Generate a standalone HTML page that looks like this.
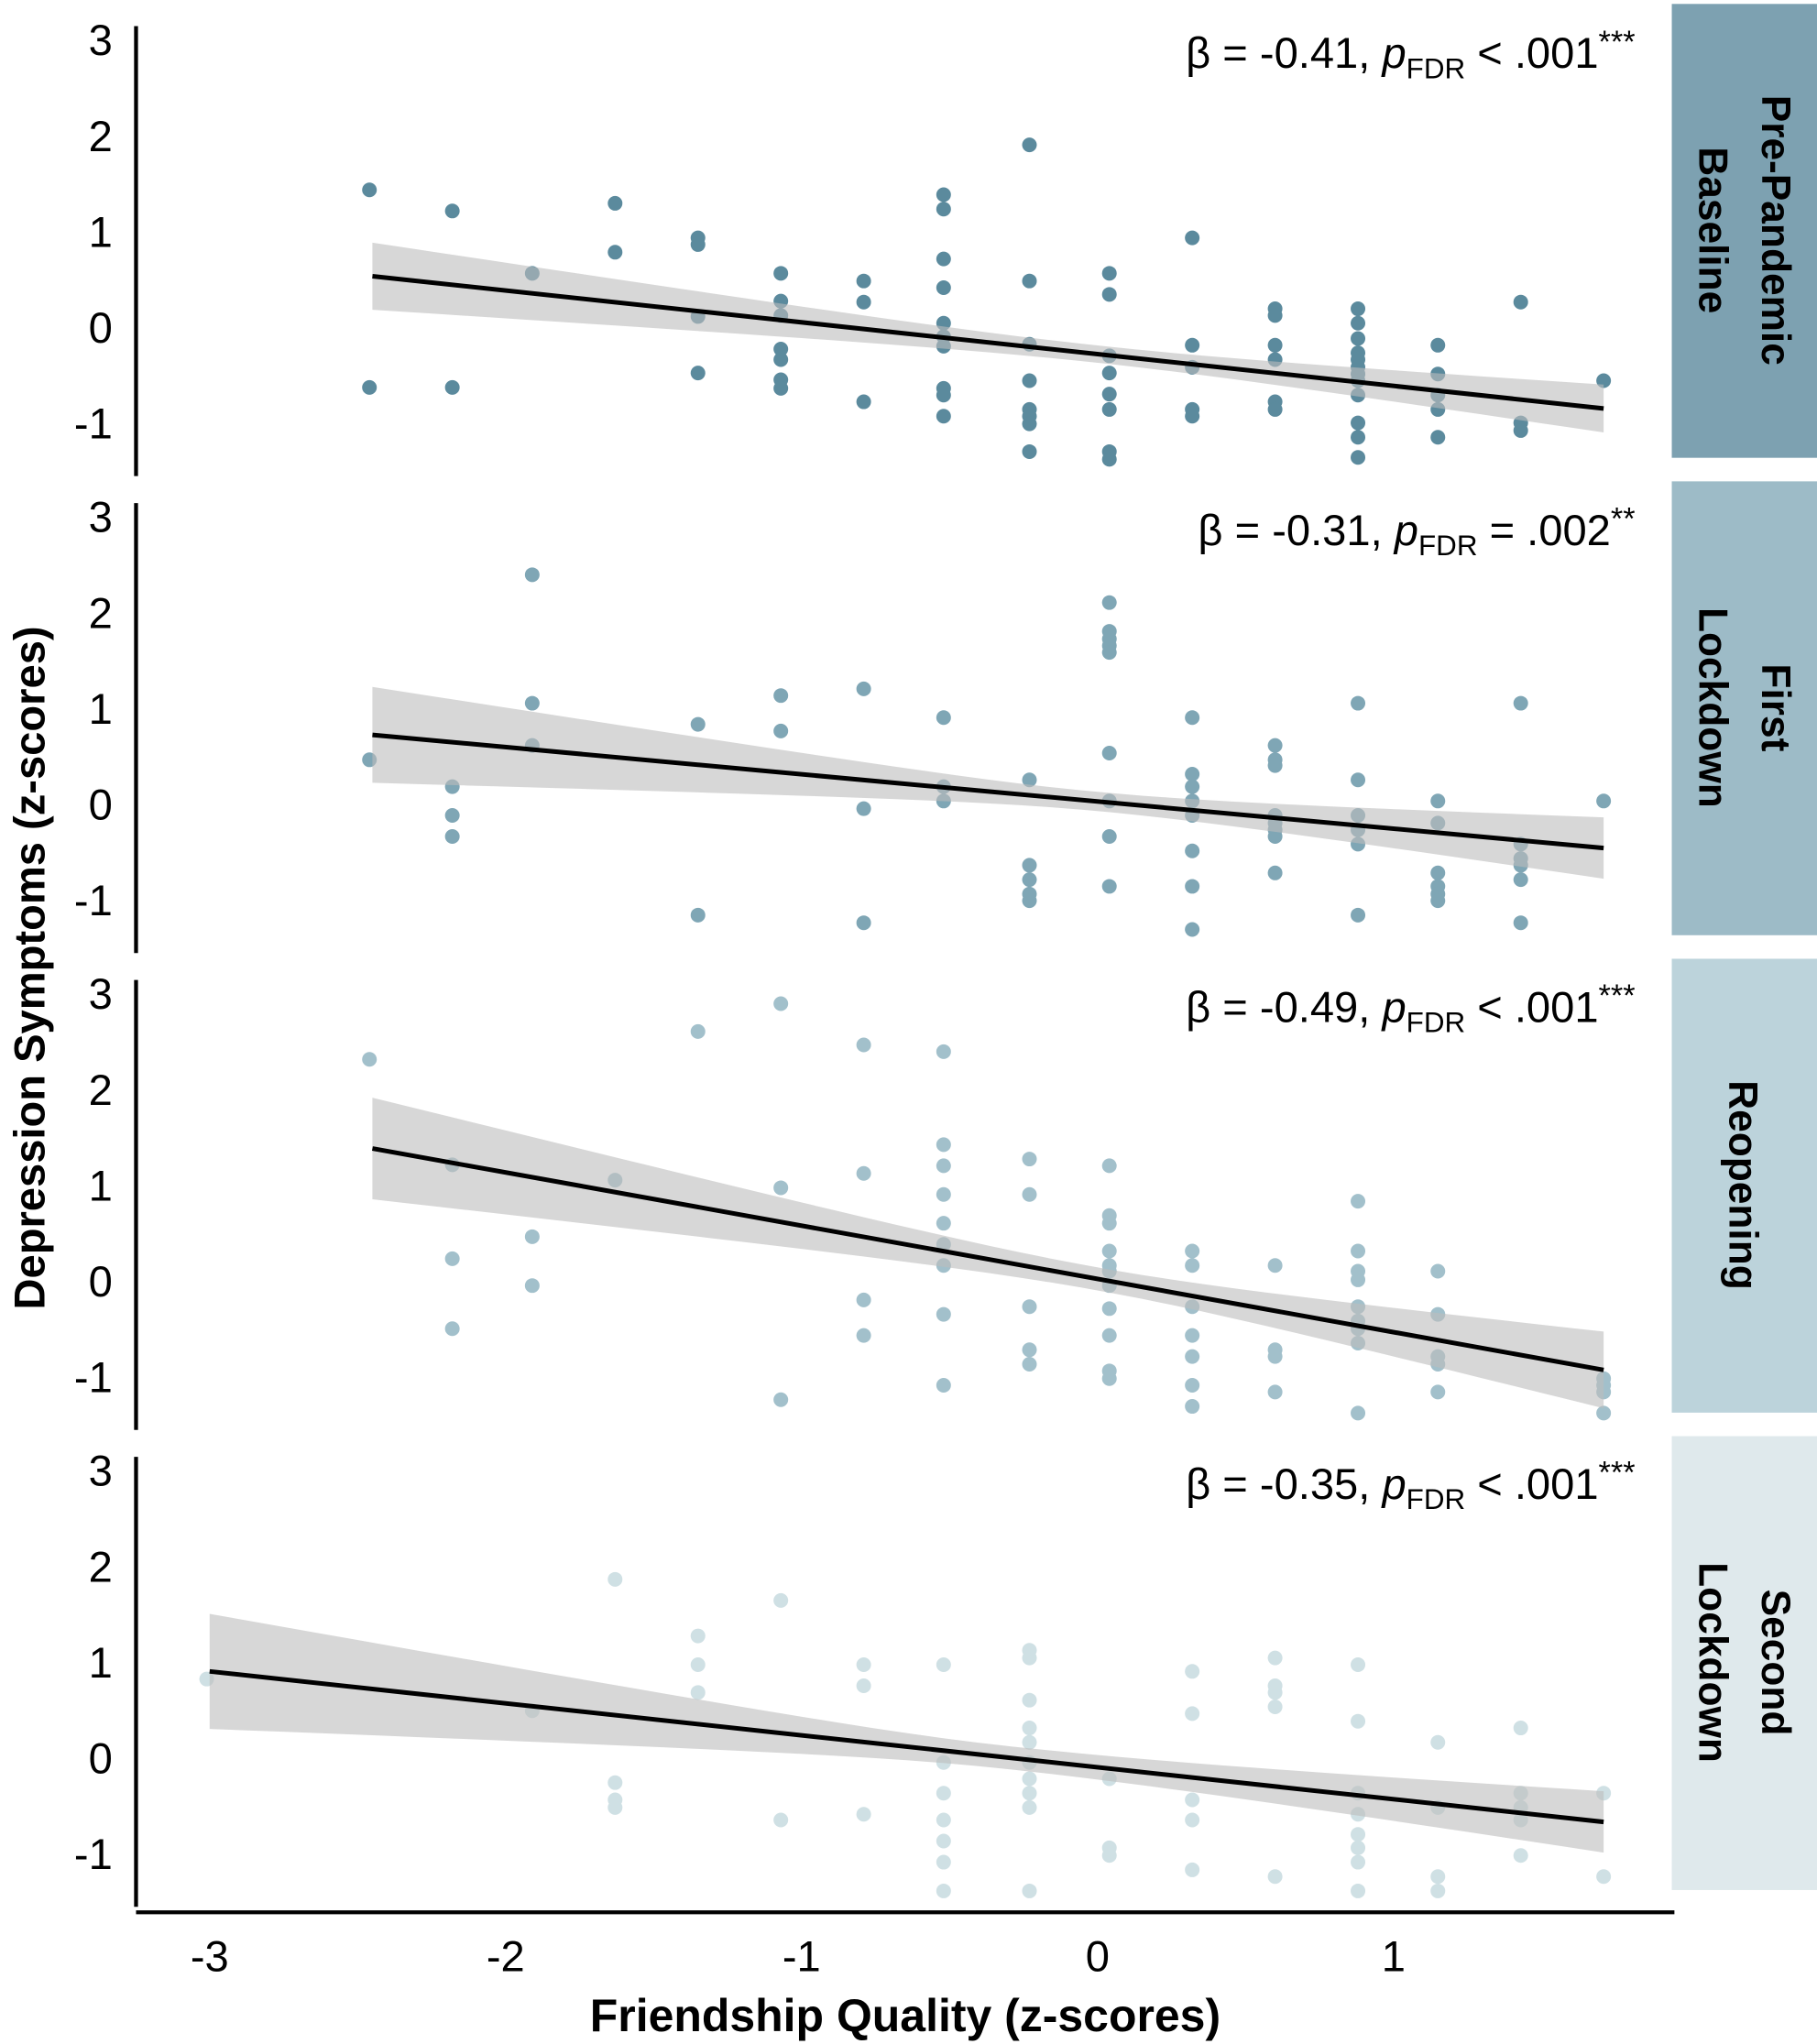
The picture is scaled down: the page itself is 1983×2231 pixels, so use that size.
<!DOCTYPE html>
<html><head><meta charset="utf-8"><style>
html,body{margin:0;padding:0;background:#fff;}
svg{display:block;}
text{font-family:"Liberation Sans",sans-serif;}
</style></head><body>
<svg id="chart" width="1983" height="2231" viewBox="0 0 1389 1562.7" xmlns="http://www.w3.org/2000/svg">
<g id="plots"></g>
<line x1="104" y1="1462" x2="1280" y2="1462" stroke="#000" stroke-width="3"/>
<g id="xticks"></g>
<text x="692" y="1553" font-size="35" font-weight="bold" text-anchor="middle">Friendship Quality (z-scores)</text>
<text transform="translate(34,740) rotate(-90)" font-size="33" font-weight="bold" text-anchor="middle">Depression Symptoms (z-scores)</text>
</svg>
<script>
const xTicks=[-3,-2,-1,0,1];
const yTicks=[3,2,1,0,-1];
const panelNames=["pre-pandemic","first-lockdown","reopening","second-lockdown"];
const stripLines=[["Pre-Pandemic","Baseline"],["First","Lockdown"],["Reopening"],["Second","Lockdown"]];
const betas=["-0.41","-0.31","-0.49","-0.35"];
const pOps=["<","=","<","<"];
const pVals=[".001",".002",".001",".001"];
const stars=["***","**","***","***"];
const pointColors=["#5b8a9d","#7fa6b5","#a2c0cb","#cfe0e4"];
const stripColors=["#7da1b1","#9dbbc7","#bcd3db","#dfe9ec"];
const lineX1=[-2.45,-2.45,-2.45,-3.0];
const lineY1=[0.53,0.72,1.38,0.90];
const lineX2=[1.71,1.71,1.71,1.71];
const lineY2=[-0.85,-0.46,-0.93,-0.67];
const ciLeft=[0.35,0.5,0.53,0.6];
const ciMin=[0.09,0.1,0.12,0.12];
const ciRight=[0.25,0.32,0.4,0.32];
const ciCenter=[0.0,0.0,0.0,-0.3];
const pts0=[[-2.46,1.43],[-2.46,-0.63],[-2.18,1.21],[-2.18,-0.63],[-1.91,0.56],[-1.63,1.29],[-1.63,0.78],[-1.35,0.93],[-1.35,0.86],[-1.35,0.11],[-1.35,-0.48],[-1.07,0.56],[-1.07,0.27],[-1.07,0.12],[-1.07,-0.23],[-1.07,-0.34],[-1.07,-0.55],[-1.07,-0.64],[-0.79,0.48],[-0.79,0.26],[-0.79,-0.78],[-0.52,1.38],[-0.52,1.23],[-0.52,0.71],[-0.52,0.41],[-0.52,0.04],[-0.52,-0.1],[-0.52,-0.2],[-0.52,-0.64],[-0.52,-0.71],[-0.52,-0.93],[-0.23,1.9],[-0.23,0.48],[-0.23,-0.18],[-0.23,-0.56],[-0.23,-0.86],[-0.23,-0.93],[-0.23,-1.01],[-0.23,-1.3],[0.04,0.56],[0.04,0.34],[0.04,-0.3],[0.04,-0.48],[0.04,-0.7],[0.04,-0.86],[0.04,-1.3],[0.04,-1.38],[0.32,0.93],[0.32,-0.19],[0.32,-0.42],[0.32,-0.86],[0.32,-0.93],[0.6,0.19],[0.6,0.12],[0.6,-0.19],[0.6,-0.34],[0.6,-0.78],[0.6,-0.86],[0.88,0.19],[0.88,0.04],[0.88,-0.12],[0.88,-0.27],[0.88,-0.34],[0.88,-0.42],[0.88,-0.49],[0.88,-0.56],[0.88,-0.71],[0.88,-1.0],[0.88,-1.15],[0.88,-1.36],[1.15,-0.19],[1.15,-0.49],[1.15,-0.71],[1.15,-0.86],[1.15,-1.15],[1.43,0.26],[1.43,-1.0],[1.43,-1.08],[1.71,-0.56]];
const pts1=[[-2.46,0.46],[-2.18,0.18],[-2.18,-0.12],[-2.18,-0.34],[-1.91,2.39],[-1.91,1.05],[-1.91,0.61],[-1.35,0.83],[-1.35,-1.16],[-1.07,1.13],[-1.07,0.76],[-0.79,1.2],[-0.79,-0.05],[-0.79,-1.24],[-0.52,0.9],[-0.52,0.18],[-0.52,0.03],[-0.23,0.25],[-0.23,-0.64],[-0.23,-0.79],[-0.23,-0.94],[-0.23,-1.01],[0.04,2.1],[0.04,1.8],[0.04,1.72],[0.04,1.65],[0.04,1.58],[0.04,0.53],[0.04,0.03],[0.04,-0.34],[0.04,-0.86],[0.32,0.9],[0.32,0.31],[0.32,0.18],[0.32,0.03],[0.32,-0.12],[0.32,-0.49],[0.32,-0.86],[0.32,-1.31],[0.6,0.61],[0.6,0.46],[0.6,0.4],[0.6,-0.12],[0.6,-0.2],[0.6,-0.27],[0.6,-0.34],[0.6,-0.72],[0.88,1.05],[0.88,0.25],[0.88,-0.12],[0.88,-0.27],[0.88,-0.42],[0.88,-1.16],[1.15,0.03],[1.15,-0.2],[1.15,-0.72],[1.15,-0.86],[1.15,-0.94],[1.15,-1.01],[1.43,1.05],[1.43,-0.42],[1.43,-0.57],[1.43,-0.64],[1.43,-0.79],[1.43,-1.24],[1.71,0.03]];
const pts2=[[-2.46,2.31],[-2.18,1.21],[-2.18,0.23],[-2.18,-0.5],[-1.91,0.46],[-1.91,-0.05],[-1.63,1.05],[-1.35,2.6],[-1.07,2.89],[-1.07,0.97],[-1.07,-1.24],[-0.79,2.46],[-0.79,1.12],[-0.79,-0.2],[-0.79,-0.57],[-0.52,2.39],[-0.52,1.42],[-0.52,1.2],[-0.52,0.9],[-0.52,0.6],[-0.52,0.38],[-0.52,0.16],[-0.52,-0.35],[-0.52,-1.09],[-0.23,1.27],[-0.23,0.9],[-0.23,-0.27],[-0.23,-0.72],[-0.23,-0.87],[0.04,1.2],[0.04,0.68],[0.04,0.6],[0.04,0.31],[0.04,0.16],[0.04,0.1],[0.04,-0.05],[0.04,-0.29],[0.04,-0.57],[0.04,-0.94],[0.04,-1.02],[0.32,0.31],[0.32,0.16],[0.32,-0.27],[0.32,-0.57],[0.32,-0.79],[0.32,-1.09],[0.32,-1.31],[0.6,0.16],[0.6,-0.72],[0.6,-0.79],[0.6,-1.16],[0.88,0.83],[0.88,0.31],[0.88,0.1],[0.88,0.01],[0.88,-0.27],[0.88,-0.42],[0.88,-0.5],[0.88,-0.65],[0.88,-1.38],[1.15,0.1],[1.15,-0.35],[1.15,-0.79],[1.15,-0.87],[1.15,-1.16],[1.71,-1.02],[1.71,-1.09],[1.71,-1.16],[1.71,-1.38]];
const pts3=[[-3.01,0.82],[-1.91,0.49],[-1.63,1.86],[-1.63,-0.26],[-1.63,-0.44],[-1.63,-0.52],[-1.35,1.27],[-1.35,0.97],[-1.35,0.68],[-1.07,1.64],[-1.07,-0.65],[-0.79,0.97],[-0.79,0.75],[-0.79,-0.59],[-0.52,0.97],[-0.52,-0.05],[-0.52,-0.37],[-0.52,-0.65],[-0.52,-0.87],[-0.52,-1.09],[-0.52,-1.39],[-0.23,1.12],[-0.23,1.04],[-0.23,0.6],[-0.23,0.31],[-0.23,0.16],[-0.23,-0.05],[-0.23,-0.22],[-0.23,-0.37],[-0.23,-0.52],[-0.23,-1.39],[0.04,-0.22],[0.04,-0.94],[0.04,-1.02],[0.32,0.9],[0.32,0.46],[0.32,-0.44],[0.32,-0.65],[0.32,-1.17],[0.6,1.04],[0.6,0.75],[0.6,0.68],[0.6,0.53],[0.6,-1.24],[0.88,0.97],[0.88,0.38],[0.88,-0.37],[0.88,-0.59],[0.88,-0.8],[0.88,-0.94],[0.88,-1.09],[0.88,-1.39],[1.15,0.16],[1.15,-0.52],[1.15,-1.24],[1.15,-1.39],[1.43,0.31],[1.43,-0.37],[1.43,-0.52],[1.43,-0.65],[1.43,-1.02],[1.71,-0.37],[1.71,-1.24]];
const allPts=[pts0,pts1,pts2,pts3];

const NS="http://www.w3.org/2000/svg";
const plots=document.getElementById('plots');
const X0=839, XS=226.25, YS=73.3, PTOP=20, POFF=364.6, ZERO0=250;
function sx(v){return X0+v*XS;}
function sy(p,v){return ZERO0+p*POFF-v*YS;}
function mk(tag,attrs,parent){const e=document.createElementNS(NS,tag);for(const k in attrs)e.setAttribute(k,attrs[k]);parent.appendChild(e);return e;}
function half(p,x){
  const c=ciCenter[p], m=ciMin[p];
  const edge = x<c ? lineX1[p] : lineX2[p];
  const h = x<c ? ciLeft[p] : ciRight[p];
  const k=(h*h-m*m)/((edge-c)*(edge-c));
  return Math.sqrt(m*m+k*(x-c)*(x-c));
}
for(let p=0;p<4;p++){
  const g=mk('g',{},plots);
  
  
  const ax=mk('line',{x1:104,y1:PTOP+p*POFF,x2:104,y2:PTOP+p*POFF+344,stroke:'#000','stroke-width':3},g);
  
  
  yTicks.forEach(t=>{
    const tx=mk('text',{x:86,y:sy(p,t)+12,'font-size':33,'text-anchor':'end'},g);
    
    
    tx.textContent=String(t);
  });
  const pg=mk('g',{},g);
  
  
  allPts[p].forEach(d=>{
    const c=mk('circle',{cx:sx(d[0]),cy:sy(p,d[1]),r:5.6,fill:pointColors[p]},pg);
    
    
  });
  const n=40, up=[], lo=[];
  for(let i=0;i<=n;i++){
    const x=lineX1[p]+(lineX2[p]-lineX1[p])*i/n;
    const y=lineY1[p]+(lineY2[p]-lineY1[p])*i/n;
    const h=half(p,x);
    up.push(sx(x)+','+sy(p,y+h)); lo.unshift(sx(x)+','+sy(p,y-h));
  }
  const band=mk('polygon',{points:up.concat(lo).join(' '),fill:'#bdbdbd','fill-opacity':0.6},g);
  
  
  const ln=mk('line',{x1:sx(lineX1[p]),y1:sy(p,lineY1[p]),x2:sx(lineX2[p]),y2:sy(p,lineY2[p]),stroke:'#000','stroke-width':3.5},g);
  
  
  const an=mk('text',{x:1250,y:PTOP+p*POFF+32,'font-size':33,'text-anchor':'end'},g);
  
  
  an.innerHTML='β = '+betas[p]+', <tspan font-style="italic">p</tspan><tspan font-size="22" dy="8">FDR</tspan><tspan dy="-8"> '+pOps[p]+' '+pVals[p]+'</tspan><tspan font-size="24" dy="-12">'+stars[p]+'</tspan>';
  const st=mk('rect',{x:1278,y:3+p*365,width:111,height:347,fill:stripColors[p]},g);
  
  
  const lines=stripLines[p];
  const cx=1333, cy=3+p*365+173;
  lines.forEach((s,i)=>{
    const off=lines.length==1?0:(i==0?25:-23);
    const t=mk('text',{transform:'translate('+(cx+off-11)+','+cy+') rotate(90)','font-size':31,'font-weight':'bold','text-anchor':'middle'},g);
    
    
    t.textContent=s;
  });
}
const xt=document.getElementById('xticks');
xTicks.forEach(t=>{
  const e=mk('text',{x:sx(t),y:1507,'font-size':33,'text-anchor':'middle'},xt);
  
  
  e.textContent=String(t);
});
</script>
</body></html>
